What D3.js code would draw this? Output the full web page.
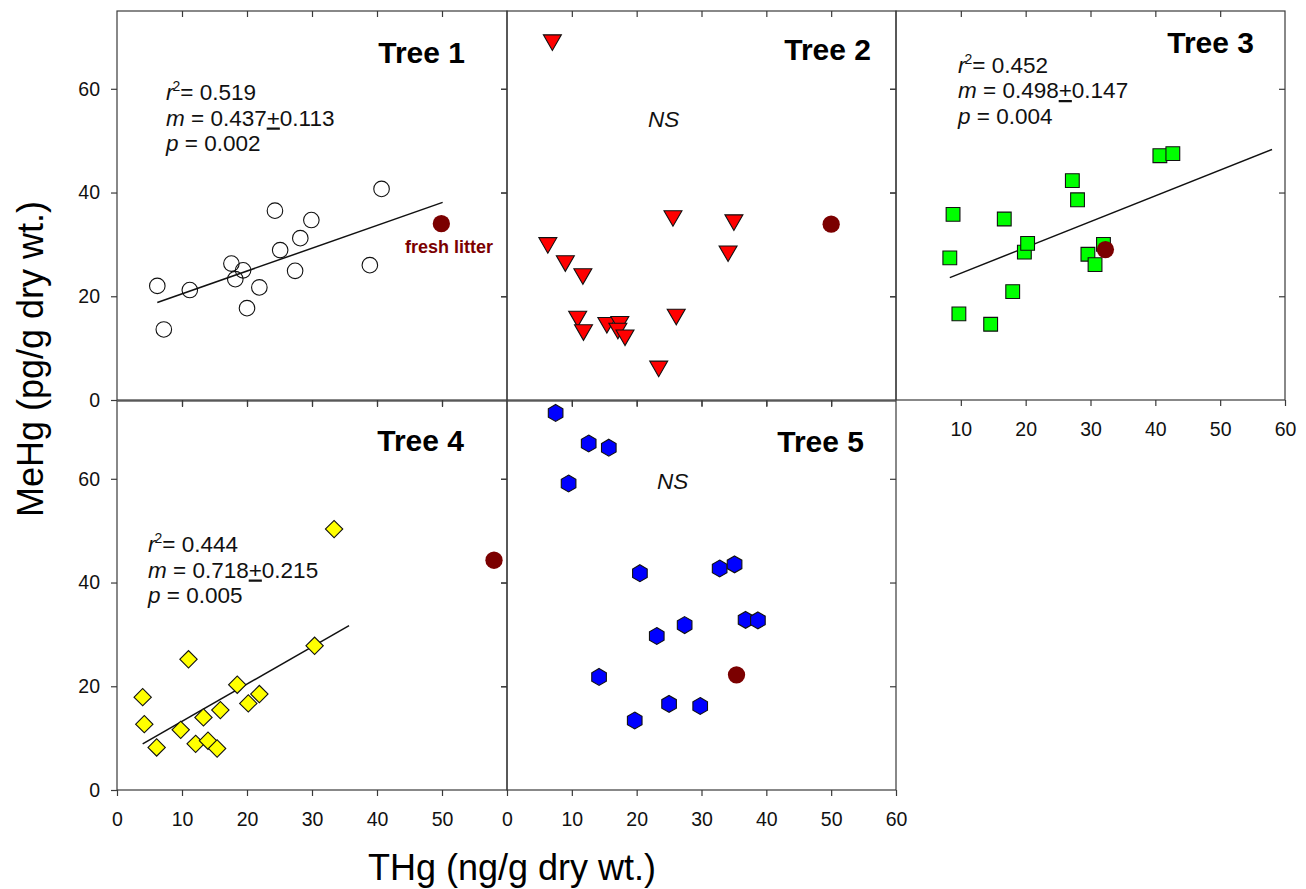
<!DOCTYPE html>
<html><head><meta charset="utf-8">
<script src="https://cdn.jsdelivr.net/npm/d3@7"></script>
<style>
html,body{margin:0;padding:0;background:#fff;}
svg{display:block;font-family:"Liberation Sans",Arial,sans-serif;}
</style></head>
<body><svg id="chart" width="1306" height="889"></svg>
<script>
// ---------- data ----------
const xTicks = [0, 10, 20, 30, 40, 50, 60];
const yTicks = [0, 20, 40, 60];
const panelNames = ["Tree 1", "Tree 2", "Tree 3", "Tree 4", "Tree 5"];

const tree1X = [6.2, 7.2, 11.2, 24.3, 29.9, 28.2, 25.1, 40.7, 38.9, 27.4, 17.6, 19.4, 18.2, 21.9, 20.0];
const tree1Y = [22.0, 13.6, 21.2, 36.5, 34.7, 31.2, 28.9, 40.7, 26.0, 24.9, 26.3, 25.0, 23.3, 21.7, 17.7];
const tree2X = [7.0, 6.3, 9.0, 11.7, 25.6, 35.0, 34.1, 26.1, 10.9, 11.8, 15.4, 17.4, 17.1, 18.2, 23.4];
const tree2Y = [69.4, 30.3, 26.8, 24.3, 35.5, 34.7, 28.7, 16.5, 16.1, 13.5, 14.9, 15.1, 13.8, 12.5, 6.5];
const tree3X = [8.8, 8.3, 9.7, 14.6, 18.0, 16.7, 19.8, 20.3, 27.2, 28.0, 29.6, 30.7, 32.0, 40.7, 42.7];
const tree3Y = [35.8, 27.4, 16.6, 14.6, 20.9, 34.9, 28.5, 30.2, 42.3, 38.6, 28.1, 26.1, 30.0, 47.1, 47.5];
const tree4X = [3.95, 4.2, 6.1, 11.0, 9.8, 12.1, 13.3, 14.0, 15.4, 15.9, 18.5, 20.2, 21.9, 30.4, 33.4];
const tree4Y = [17.9, 12.7, 8.2, 25.2, 11.6, 8.9, 14.0, 9.5, 8.0, 15.4, 20.3, 16.7, 18.5, 27.8, 50.3];
const tree5X = [7.5, 12.6, 15.7, 9.5, 20.5, 32.8, 35.1, 27.4, 23.1, 36.8, 38.7, 14.2, 25.0, 29.8, 19.7];
const tree5Y = [72.7, 66.8, 66.0, 59.1, 41.8, 42.7, 43.5, 31.8, 29.7, 32.8, 32.7, 21.8, 16.6, 16.2, 13.4];

// fresh litter point per panel
const litterX = [49.9, 50.0, 32.3, 58.0, 35.4];
const litterY = [34.0, 33.9, 29.0, 44.3, 22.2];

// regression lines (end points)
const fit1X = [6.2, 50.1], fit1Y = [18.8, 38.1];
const fit3X = [8.3, 58.0], fit3Y = [23.6, 48.3];
const fit4X = [3.95, 35.7], fit4Y = [8.9, 31.7];

const stats1 = ["0.519", "0.437", "0.113", "0.002"];
const stats3 = ["0.452", "0.498", "0.147", "0.004"];
const stats4 = ["0.444", "0.718", "0.215", "0.005"];

// ---------- layout ----------
const svg = d3.select("#chart");
const colX = [[117, 507], [507, 896], [896, 1285]];
const rowY = [[400, 11], [790, 401]];
const FONT = '"Liberation Sans",Arial,sans-serif';

const symbolHexagon = {
  draw(ctx, size) {
    const r = Math.sqrt(size / (3 * Math.sqrt(3) / 2));
    for (let i = 0; i < 6; i++) {
      const a = -Math.PI / 2 + i * Math.PI / 3;
      const px = r * Math.cos(a), py = r * Math.sin(a);
      if (i === 0) ctx.moveTo(px, py); else ctx.lineTo(px, py);
    }
    ctx.closePath();
  }
};

const panels = [
  {name: panelNames[0], col: 0, row: 0, xs: tree1X, ys: tree1Y, sym: d3.symbolCircle, size: 190, rot: 0, fill: "none",
   fit: [fit1X, fit1Y], stats: stats1, statsPos: [166, 100], titlePos: [465, 63], ns: null,
   yLabels: true, xAxis: null},
  {name: panelNames[1], col: 1, row: 0, xs: tree2X, ys: tree2Y, sym: d3.symbolTriangle, size: 140, rot: 180, fill: "#ff0000",
   fit: null, stats: null, titlePos: [871, 60], ns: [648, 127], yLabels: false, xAxis: null},
  {name: panelNames[2], col: 2, row: 0, xs: tree3X, ys: tree3Y, sym: d3.symbolSquare, size: 190, rot: 0, fill: "#00ff00",
   fit: [fit3X, fit3Y], stats: stats3, statsPos: [958, 72.5], titlePos: [1254, 53], ns: null,
   yLabels: false, xAxis: xTicks.filter(d => d > 0)},
  {name: panelNames[3], col: 0, row: 1, xs: tree4X, ys: tree4Y, sym: d3.symbolSquare, size: 150, rot: 45, fill: "#ffff00",
   fit: [fit4X, fit4Y], stats: stats4, statsPos: [148, 552], titlePos: [464, 451], ns: null,
   yLabels: true, xAxis: xTicks.filter(d => d < 60)},
  {name: panelNames[4], col: 1, row: 1, xs: tree5X, ys: tree5Y, sym: symbolHexagon, size: 185, rot: 0, fill: "#0000ff",
   fit: null, stats: null, titlePos: [864, 452], ns: [657, 489], yLabels: false, xAxis: xTicks}
];

panels.forEach((p, i) => {
  const x = d3.scaleLinear().domain([0, 60]).range(colX[p.col]);
  const y = d3.scaleLinear().domain([0, 75]).range(rowY[p.row]);
  const g = svg.append("g");
  const [x0, x1] = colX[p.col], [y0, y1] = rowY[p.row];

  // frame
  g.append("rect").attr("x", x0).attr("y", y1).attr("width", x1 - x0).attr("height", y0 - y1)
    .attr("fill", "none").attr("stroke", "#3a3a3a").attr("stroke-width", 1.2);

  // axes
  const styleAxis = sel => {
    sel.select(".domain").remove();
    sel.selectAll("line").attr("stroke", "#3a3a3a").attr("stroke-width", 1.2);
    sel.selectAll("text").attr("font-family", FONT).attr("font-size", 19.5).attr("fill", "#111");
  };
  const inner = xTicks.filter(d => d > 0 && d < 60);
  g.append("g").attr("transform", `translate(0,${y0})`)
    .call(d3.axisBottom(x).tickValues(p.xAxis ? p.xAxis.concat(xTicks.filter(d => !p.xAxis.includes(d) && d > 0 && d < 60)) : inner)
      .tickSize(6).tickPadding(16).tickFormat(d => (p.xAxis && p.xAxis.includes(d)) ? d : ""))
    .call(styleAxis);
  g.append("g").attr("transform", `translate(0,${y1})`)
    .call(d3.axisTop(x).tickValues(inner).tickSize(-6).tickFormat(""))
    .call(styleAxis);
  const yInner = yTicks.filter(d => d > 0);
  g.append("g").attr("transform", `translate(${x0},0)`)
    .call(d3.axisLeft(y).tickValues(p.yLabels ? yTicks : yInner)
      .tickSize(6).tickPadding(11).tickFormat(d => p.yLabels ? d : ""))
    .call(styleAxis);
  g.append("g").attr("transform", `translate(${x1},0)`)
    .call(d3.axisRight(y).tickValues(yInner).tickSize(-6).tickFormat(""))
    .call(styleAxis);

  // regression line
  if (p.fit) {
    g.append("line")
      .attr("x1", x(p.fit[0][0])).attr("y1", y(p.fit[1][0]))
      .attr("x2", x(p.fit[0][1])).attr("y2", y(p.fit[1][1]))
      .attr("stroke", "#111").attr("stroke-width", 1.5);
  }

  // points
  const pts = p.xs.map((v, k) => ({x: v, y: p.ys[k]}));
  const symGen = d3.symbol().type(p.sym).size(p.size);
  g.selectAll("path.pt").data(pts).join("path").attr("class", "pt")
    .attr("d", symGen)
    .attr("transform", d => `translate(${x(d.x)},${y(d.y)}) rotate(${p.rot})`)
    .attr("fill", p.fill).attr("stroke", "#111").attr("stroke-width", 1.1);

  // fresh litter
  g.append("path").attr("d", d3.symbol().type(d3.symbolCircle).size(235)())
    .attr("transform", `translate(${x(litterX[i])},${y(litterY[i])})`)
    .attr("fill", "#7b0000");

  // title
  g.append("text").attr("x", p.titlePos[0]).attr("y", p.titlePos[1]).attr("text-anchor", "end")
    .attr("font-family", FONT).attr("font-weight", "bold").attr("font-size", 30).attr("fill", "#000")
    .text(p.name);

  // stats
  if (p.stats) {
    const t = g.append("g").attr("font-family", FONT).attr("font-size", 22.5).attr("fill", "#111");
    const [sx, sy] = p.statsPos;
    const l1 = t.append("text").attr("x", sx).attr("y", sy);
    l1.append("tspan").attr("font-style", "italic").text("r");
    l1.append("tspan").attr("font-size", 14).attr("dy", -9).attr("dx", -1).text("2");
    l1.append("tspan").attr("dy", 9).text("= " + p.stats[0]);
    const l2 = t.append("text").attr("x", sx).attr("y", sy + 25.5);
    l2.append("tspan").attr("font-style", "italic").text("m");
    l2.append("tspan").text(" = " + p.stats[1]);
    l2.append("tspan").attr("text-decoration", "underline").text("+");
    l2.append("tspan").text(p.stats[2]);
    const l3 = t.append("text").attr("x", sx).attr("y", sy + 51);
    l3.append("tspan").attr("font-style", "italic").text("p");
    l3.append("tspan").text(" = " + p.stats[3]);
  }
  if (p.ns) {
    g.append("text").attr("x", p.ns[0]).attr("y", p.ns[1]).attr("font-family", FONT)
      .attr("font-size", 22.5).attr("font-style", "italic").attr("fill", "#111").text("NS");
  }
});

// fresh litter label
svg.append("text").attr("x", 405).attr("y", 253).attr("font-family", FONT).attr("font-weight", "bold")
  .attr("font-size", 18).attr("fill", "#7b0000").text("fresh litter");

// axis titles
svg.append("text").attr("transform", "translate(43,359) rotate(-90)").attr("text-anchor", "middle")
  .attr("font-family", FONT).attr("font-size", 36).attr("fill", "#000").text("MeHg (pg/g dry wt.)");
svg.append("text").attr("x", 512).attr("y", 880).attr("text-anchor", "middle")
  .attr("font-family", FONT).attr("font-size", 36).attr("fill", "#000").text("THg (ng/g dry wt.)");
</script></body></html>
